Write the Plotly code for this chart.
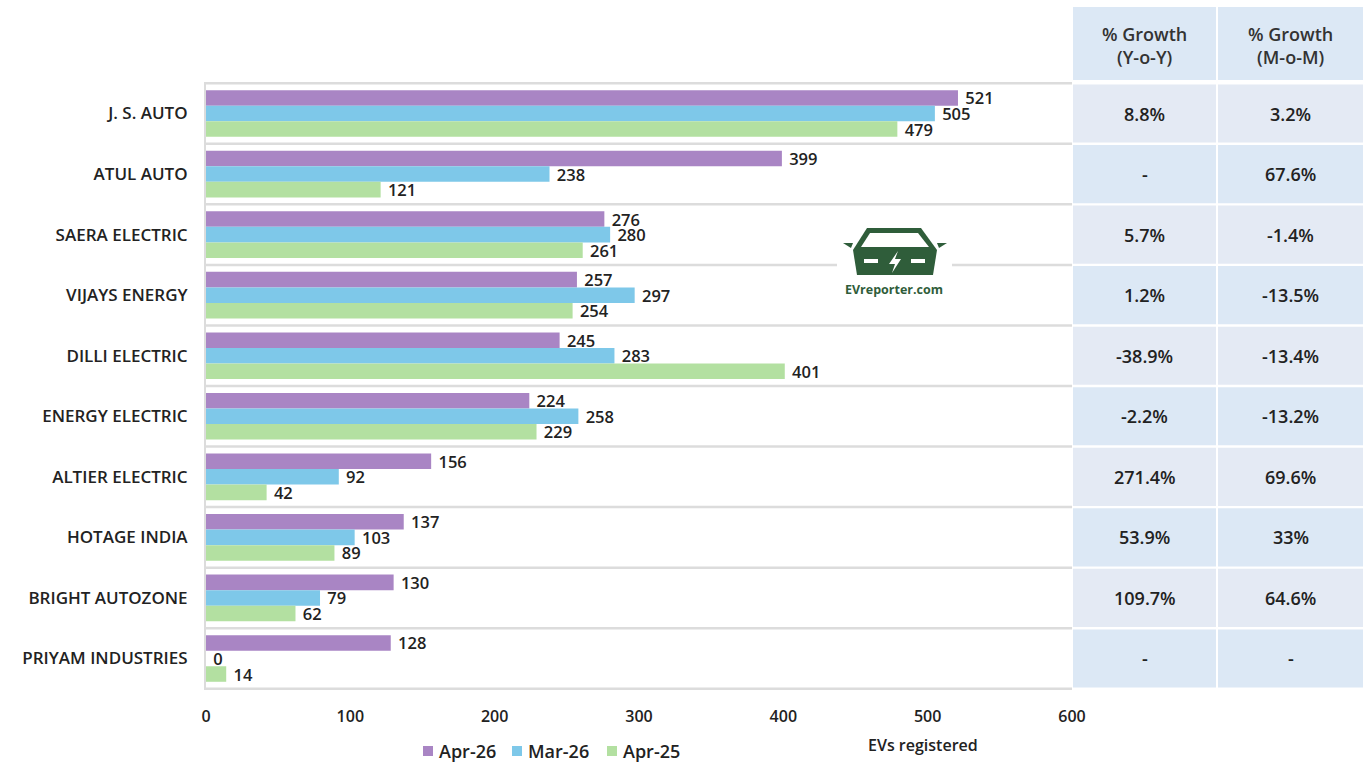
import plotly.graph_objects as go

companies = ["J. S. AUTO", "ATUL AUTO", "SAERA ELECTRIC", "VIJAYS ENERGY", "DILLI ELECTRIC",
             "ENERGY ELECTRIC", "ALTIER ELECTRIC", "HOTAGE INDIA", "BRIGHT AUTOZONE", "PRIYAM INDUSTRIES"]
apr26 = [521, 399, 276, 257, 245, 224, 156, 137, 130, 128]
mar26 = [505, 238, 280, 297, 283, 258, 92, 103, 79, 0]
apr25 = [479, 121, 261, 254, 401, 229, 42, 89, 62, 14]
yoy = ["8.8%", "-", "5.7%", "1.2%", "-38.9%", "-2.2%", "271.4%", "53.9%", "109.7%", "-"]
mom = ["3.2%", "67.6%", "-1.4%", "-13.5%", "-13.4%", "-13.2%", "69.6%", "33%", "64.6%", "-"]
table_headers = ["% Growth<br>(Y-o-Y)", "% Growth<br>(M-o-M)"]
series_names = ["Apr-26", "Mar-26", "Apr-25"]
series_values = [apr26, mar26, apr25]
series_colors = ["#A985C4", "#7EC8E9", "#B3E0A1"]

# effective drawable page size (the viewport's client width is 1355 px)
W, H = 1355, 762
L, R, T, B = 206, 0, 82, 72
PW, PH = W - L - R, H - T - B
FONT = "Open Sans"
TXT = "#222222"


def px_x(p):
    return (p - L) / PW


def px_y(p):
    return (H - B - p) / PH


fig = go.Figure()
for name, vals, col in zip(series_names, series_values, series_colors):
    fig.add_trace(go.Bar(
        y=companies, x=vals, name=name, orientation="h",
        marker=dict(color=col, line=dict(width=0)),
        text=vals, texttemplate="\u00a0%{x}", textposition="outside",
        textfont=dict(family=FONT, size=16.5, color=TXT, weight=600),
        constraintext="none", cliponaxis=False, showlegend=False,
    ))

shapes = []
annotations = []
# category band separators
for i in range(len(companies) + 1):
    shapes.append(dict(type="line", xref="paper", yref="y", x0=0, x1=px_x(1072),
                       y0=i - 0.5, y1=i - 0.5, line=dict(color="#DCDCDC", width=2.5), layer="below"))

# table
col_x = [(1073, 1216), (1218, 1363)]
for c, (x0, x1) in enumerate(col_x):
    shapes.append(dict(type="rect", xref="paper", yref="paper", x0=px_x(x0), x1=px_x(x1),
                       y0=px_y(80), y1=px_y(7), fillcolor="#DCE8F5", line=dict(width=0)))
    annotations.append(dict(xref="paper", yref="paper", x=px_x((x0 + x1) / 2), y=px_y(45),
                            xanchor="center", yanchor="middle",
                            text=table_headers[c], showarrow=False,
                            font=dict(family=FONT, size=18, color="#333333", weight=600)))
    colvals = yoy if c == 0 else mom
    for i, v in enumerate(colvals):
        fill = "#E4EAF4" if i % 2 == 0 else "#DCE8F5"
        shapes.append(dict(type="rect", xref="paper", yref="y", x0=px_x(x0), x1=px_x(x1),
                           y0=i - 0.5 + 0.02, y1=i + 0.5 - 0.02, fillcolor=fill, line=dict(width=0)))
        annotations.append(dict(xref="paper", yref="y", x=px_x((x0 + x1) / 2), y=i,
                                xanchor="center", yanchor="middle",
                                text=v, showarrow=False,
                                font=dict(family=FONT, size=18, color=TXT, weight=600)))


# logo
def path(points):
    return "M " + " L ".join(f"{px_x(a):.5f},{px_y(b):.5f}" for a, b in points) + " Z"


G = "#2F5D3A"
shapes.append(dict(type="rect", xref="paper", yref="paper", x0=px_x(837), x1=px_x(952),
                   y0=px_y(300), y1=px_y(206), fillcolor="white", line=dict(width=0)))
logo_parts = [
    ([(867, 228), (921, 228), (937, 250), (933, 275), (857, 275), (853, 250)], G),
    ([(843, 243), (853, 243), (851, 248)], G),
    ([(937, 243), (947, 243), (939, 248)], G),
    ([(870, 233), (918, 233), (929, 247), (861, 247)], "white"),
    ([(864, 259), (878, 259), (878, 263), (864, 263)], "white"),
    ([(911, 259), (925, 259), (925, 263), (911, 263)], "white"),
    ([(898, 251), (889, 264), (895, 264), (892, 273), (901, 259), (895, 259)], "white"),
]
for pts, col in logo_parts:
    shapes.append(dict(type="path", xref="paper", yref="paper", path=path(pts),
                       fillcolor=col, line=dict(width=0)))
annotations.append(dict(xref="paper", yref="paper", x=px_x(894), y=px_y(289), text="EVreporter.com",
                        xanchor="center", yanchor="middle",
                        showarrow=False, font=dict(family=FONT, size=12.5, color=G, weight=700)))

annotations.append(dict(xref="paper", yref="paper", x=px_x(923), y=px_y(745), text="EVs registered",
                        xanchor="center", yanchor="middle",
                        showarrow=False, font=dict(family=FONT, size=16, color=TXT, weight=600)))

# custom legend
legend_x = [423, 512, 607]
for name, col, lx in zip(series_names, series_colors, legend_x):
    shapes.append(dict(type="rect", xref="paper", yref="paper", x0=px_x(lx), x1=px_x(lx + 10),
                       y0=px_y(756), y1=px_y(746), fillcolor=col, line=dict(width=0)))
    annotations.append(dict(xref="paper", yref="paper", x=px_x(lx + 14), y=px_y(751), text=name,
                            xanchor="left", yanchor="middle", showarrow=False,
                            font=dict(family=FONT, size=18, color=TXT, weight=600)))

fig.update_layout(
    autosize=True,
    margin=dict(l=L, r=R, t=T, b=B),
    paper_bgcolor="white", plot_bgcolor="white",
    barmode="group", bargap=0.23, bargroupgap=0,
    font=dict(family=FONT, color=TXT),
    shapes=shapes, annotations=annotations,
    showlegend=False,
    xaxis=dict(domain=[0, px_x(1072)], range=[0, 600], dtick=100, showgrid=False, zeroline=False,
               showline=False, ticks="", ticklabelstandoff=15,
               tickfont=dict(family=FONT, size=16, color=TXT, weight=600)),
    yaxis=dict(autorange="reversed", showgrid=False, zeroline=False, showline=True,
               linecolor="#DCDCDC", linewidth=2, ticks="", ticklabelstandoff=13,
               tickfont=dict(family=FONT, size=17, color=TXT, weight=600)),
)

fig.write_html("out.html", default_width="100vw", default_height="100vh")
